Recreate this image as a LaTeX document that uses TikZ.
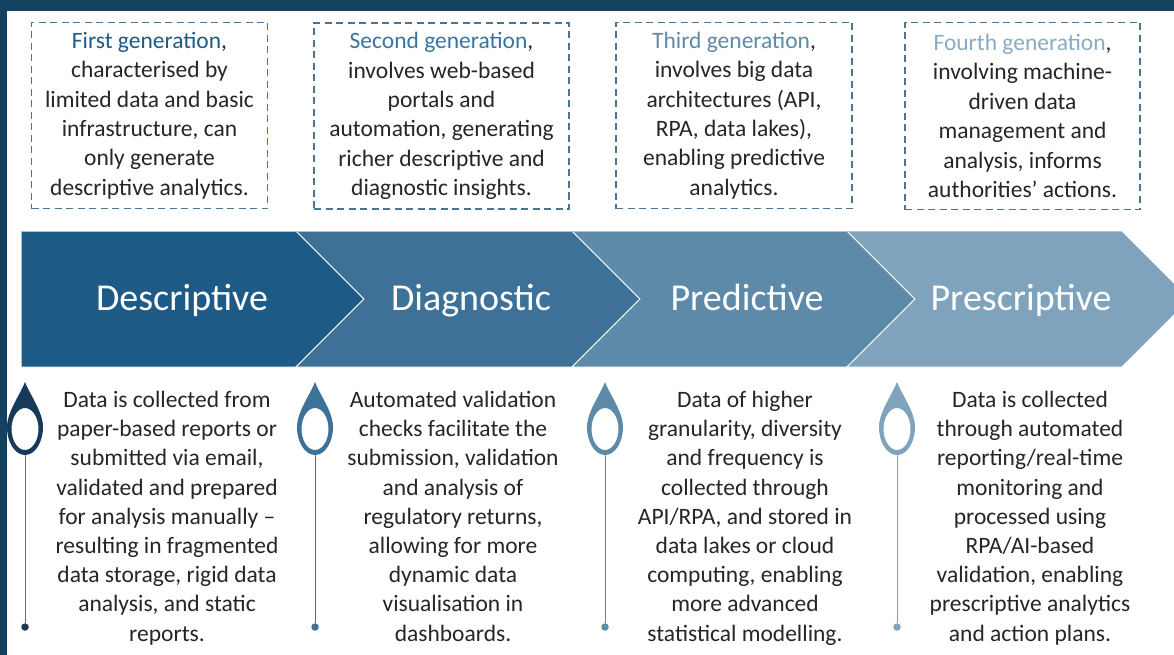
\documentclass[tikz,border=0pt]{standalone}
\usepackage{fontspec}
\setmainfont{Carlito}
\definecolor{frame}{HTML}{12425F}
\definecolor{chA}{HTML}{1D5A85}
\definecolor{chB}{HTML}{3D7197}
\definecolor{chC}{HTML}{5C8AA8}
\definecolor{chD}{HTML}{7FA3BC}
\definecolor{pinA}{HTML}{183A5A}
\definecolor{hdA}{HTML}{1D5A85}
\definecolor{hdB}{HTML}{3A75A0}
\definecolor{hdC}{HTML}{5C8AA8}
\definecolor{hdD}{HTML}{8AABC2}
\definecolor{bodytext}{HTML}{262626}
\definecolor{dashcol}{HTML}{4A7593}
\definecolor{lineA}{HTML}{5F6E80}
\begin{document}
\begin{tikzpicture}[x=1pt,y=1pt,
  genbox/.style={draw=dashcol, line width=1.9pt, dash pattern=on 7pt off 4.5pt,
     minimum width=236pt, minimum height=186pt, align=center, inner sep=0pt,
     text=bodytext, font=\fontsize{23.5}{29.4}\selectfont},
  bodynode/.style={align=center, inner sep=0pt, anchor=north, text=bodytext,
     font=\fontsize{23.5}{29.2}\selectfont},
  chevlabel/.style={text=white, anchor=base, inner sep=0pt, font=\fontsize{38}{42}\selectfont},
  chev/.style={draw=white, line width=0.9pt},
  dotnode/.style={circle, inner sep=0pt, minimum size=7.5pt},
  stem/.style={line width=1pt},
  droplet/.pic={
    \fill[pic actions, even odd rule] (0,0) .. controls (5,-13) and (18,-30) .. (18,-45)
      arc[start angle=0, end angle=-180, x radius=18, y radius=28]
      .. controls (-18,-30) and (-5,-13) .. (0,0) -- cycle
      (0,-47) ellipse[x radius=13.5, y radius=21];
  }]
\useasboundingbox (0,0) rectangle (1174,-655);
\fill[white] (0,0) rectangle (1174,-655);
% frame
\fill[frame] (0,0) rectangle (1174,-11);
\fill[frame] (0,0) rectangle (7,-655);

% top boxes
\node[genbox] (g1) at (149.5,-115.5) {\textcolor{hdA}{First generation},\\characterised by\\limited data and basic\\infrastructure, can\\only generate\\descriptive analytics.};
\node[genbox, minimum width=255pt] (g2) at (441.5,-116) {\textcolor{hdB}{Second generation},\\involves web-based\\portals and\\automation, generating\\richer descriptive and\\diagnostic insights.};
\node[genbox] (g3) at (734,-115.5) {\textcolor{hdC}{Third generation},\\involves big data\\architectures (API,\\RPA, data lakes),\\enabling predictive\\analytics.};
\node[genbox, minimum width=235pt, minimum height=187pt] (g4) at (1022.5,-116) {\textcolor{hdD}{Fourth generation},\\involving machine-\\driven data\\management and\\analysis, informs\\authorities’ actions.};

% chevrons
\filldraw[chev, fill=chA] (21,-231) -- (296,-231) -- (364,-299) -- (296,-367) -- (21,-367) -- cycle;
\filldraw[chev, fill=chB] (296,-231) -- (572,-231) -- (640,-299) -- (572,-367) -- (296,-367) -- (364,-299) -- cycle;
\filldraw[chev, fill=chC] (572,-231) -- (847,-231) -- (915,-299) -- (847,-367) -- (572,-367) -- (640,-299) -- cycle;
\filldraw[chev, fill=chD] (847,-231) -- (1122,-231) -- (1190,-299) -- (1122,-367) -- (847,-367) -- (915,-299) -- cycle;
\draw[black!25, line width=0.6pt] (21,-367) -- (21,-231) -- (1122,-231);

\node[chevlabel] (c1) at (182,-310) {Descriptive};
\node[chevlabel] (c2) at (471,-310) {Diagnostic};
\node[chevlabel] (c3) at (747,-310) {Predictive};
\node[chevlabel] (c4) at (1021,-310) {Prescriptive};

% pins
\pic[fill=pinA] at (25,-382) {droplet};
\pic[fill=chB] at (315,-382) {droplet};
\pic[fill=chC] at (605,-382) {droplet};
\pic[fill=chD] at (897,-382) {droplet};

\coordinate (p1b) at (25,-455);
\coordinate (p2b) at (315,-455);
\coordinate (p3b) at (605,-455);
\coordinate (p4b) at (897,-455);
\node[dotnode, fill=pinA] (d1) at (25,-627) {};
\node[dotnode, fill=chB] (d2) at (315,-627) {};
\node[dotnode, fill=chC] (d3) at (605,-627) {};
\node[dotnode, fill=chD] (d4) at (897,-627) {};
\draw[stem, lineA] (p1b) -- (d1);
\draw[stem, chB] (p2b) -- (d2);
\draw[stem, chC] (p3b) -- (d3);
\draw[stem, chD] (p4b) -- (d4);

% body texts
\node[bodynode] (t1) at (167,-391) {Data is collected from\\paper-based reports or\\submitted via email,\\validated and prepared\\for analysis manually –\\resulting in fragmented\\data storage, rigid data\\analysis, and static\\reports.};
\node[bodynode] (t2) at (453,-391) {Automated validation\\checks facilitate the\\submission, validation\\and analysis of\\regulatory returns,\\allowing for more\\dynamic data\\visualisation in\\dashboards.};
\node[bodynode] (t3) at (745,-391) {Data of higher\\granularity, diversity\\and frequency is\\collected through\\API/RPA, and stored in\\data lakes or cloud\\computing, enabling\\more advanced\\statistical modelling.};
\node[bodynode] (t4) at (1030,-391) {Data is collected\\through automated\\reporting/real-time\\monitoring and\\processed using\\RPA/AI-based\\validation, enabling\\prescriptive analytics\\and action plans.};
\end{tikzpicture}
\end{document}
